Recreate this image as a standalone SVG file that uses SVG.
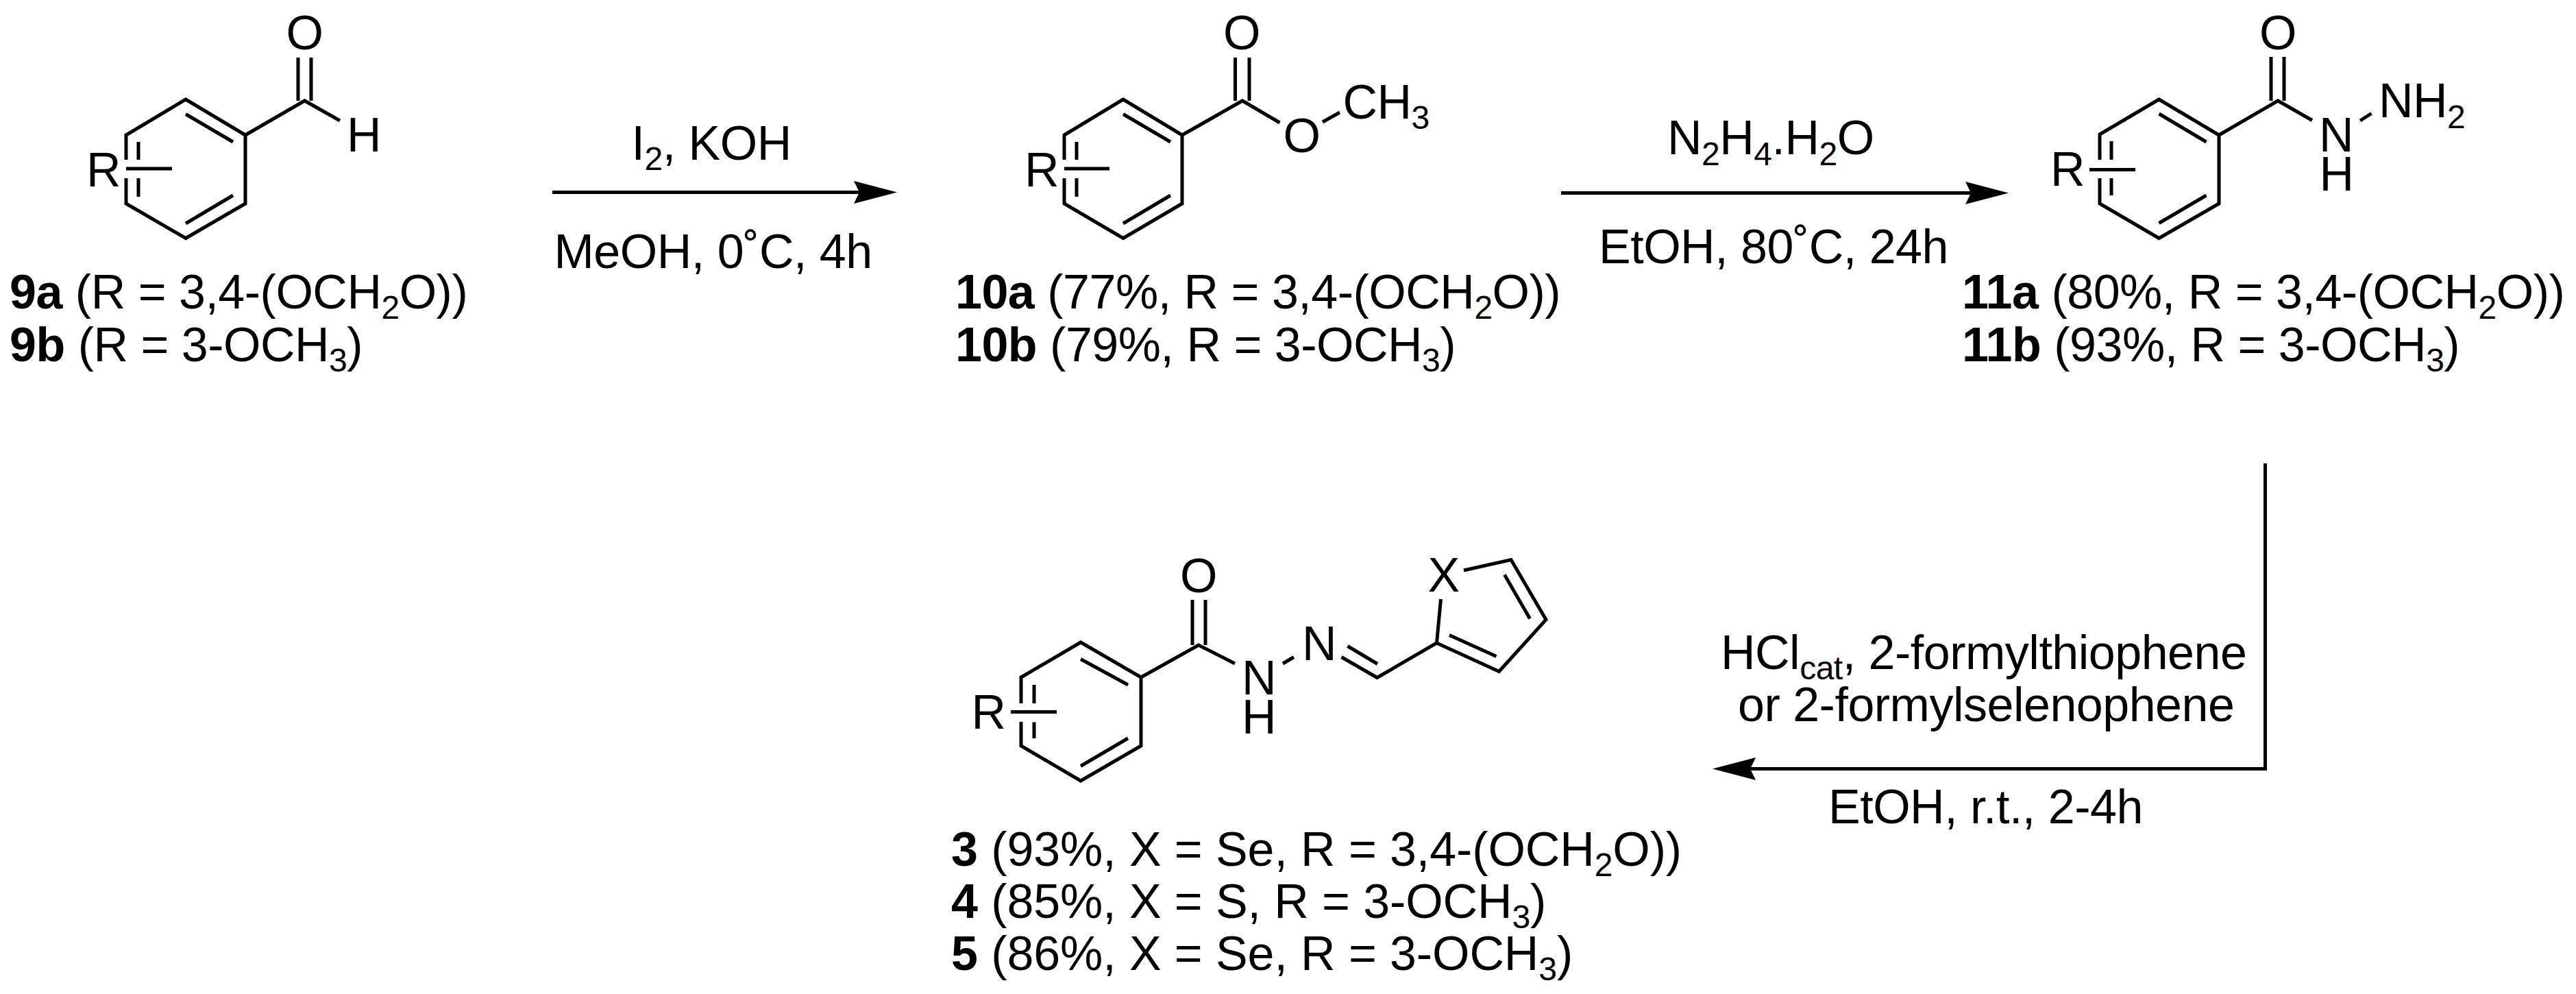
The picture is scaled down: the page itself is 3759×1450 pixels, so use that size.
<svg xmlns="http://www.w3.org/2000/svg" width="3759" height="1450" viewBox="0 0 3759 1450">
<style>
text{font-family:"Liberation Sans",Arial,sans-serif;font-size:70px;letter-spacing:-0.5px;fill:#000}
text.w{letter-spacing:-0.1px}
.b{font-weight:700}
.s{font-size:48px}
.m{text-anchor:middle}
.bond{fill:none;stroke:#000;stroke-width:5;stroke-linejoin:miter;stroke-linecap:butt}
</style>
<defs>
<marker id="head" markerUnits="userSpaceOnUse" markerWidth="64" markerHeight="34" refX="8" refY="17" orient="auto">
<path d="M0 0.500L63 17L0 33.500L8 17Z" fill="#000"/>
</marker>
</defs>
<g id="connectors">
<path class="bond" marker-end="url(#head)" d="M806 280.500H1254"/>
<path class="bond" marker-end="url(#head)" d="M2278 281.500H2876"/>
<path class="bond" marker-end="url(#head)" d="M3305.500 676V1121.500H2554"/>
<text id="r1a" x="921.500" y="232.500">I<tspan class="s" dy="15">2</tspan><tspan dy="-15">, KOH</tspan></text>
<text id="r1b" x="808.500" y="390.500">MeOH, 0˚C, 4h</text>
<text id="r2a" x="2433" y="225">N<tspan class="s" dy="15.500">2</tspan><tspan dy="-15.500">H</tspan><tspan class="s" dy="15.500">4</tspan><tspan dy="-15.500">.H</tspan><tspan class="s" dy="15.500">2</tspan><tspan dy="-15.500">O</tspan></text>
<text id="r2b" x="2333" y="383.500">EtOH, 80˚C, 24h</text>
<text id="r3a" x="2511" y="976">HCl<tspan class="s" dy="15">cat</tspan><tspan dy="-15">, 2-formylthiophene</tspan></text>
<text id="r3b" x="2536" y="1052">or 2-formylselenophene</text>
<text id="r3c" x="2668" y="1201">EtOH, r.t., 2-4h</text>
</g>
<g id="node-9">
<path class="bond" d="M184 233V197L271 145L358 197V297L271 347.500L184 297V260"/>
<path class="bond" d="M271 166.500L340 207M271 326L340 285M202 207V233M202 260V287M184 246H251"/>
<path class="bond" d="M358 197L444.500 147L496 176M435 84V147M454 84V147"/>
<text x="126" y="272">R</text>
<text class="m" x="444.500" y="72">O</text>
<text x="506" y="221">H</text>
<text x="14" y="450"><tspan class="b">9a</tspan> (R = 3,4-(OCH<tspan class="s" dy="15">2</tspan><tspan dy="-15">O))</tspan></text>
<text x="14" y="527"><tspan class="b">9b</tspan> (R = 3-OCH<tspan class="s" dy="15">3</tspan><tspan dy="-15">)</tspan></text>
</g>
<g id="node-10">
<path class="bond" d="M1553 233V197L1639 145L1725 197V297L1639 347.500L1553 297V260"/>
<path class="bond" d="M1639 166.500L1708 207M1639 326L1708 285M1571 207V233M1571 260V287M1553 246H1619"/>
<path class="bond" d="M1725 197L1813 147L1867.500 179M1802.500 84V147M1823 84V147M1930 178L1955 164"/>
<text x="1495" y="272">R</text>
<text class="m" x="1812" y="72">O</text>
<text class="m" x="1899.500" y="222">O</text>
<text x="1959.500" y="172.500">CH<tspan class="s" dy="15.500">3</tspan></text>
<text x="1394" y="450"><tspan class="b">10a</tspan> (77%, R = 3,4-(OCH<tspan class="s" dy="15">2</tspan><tspan dy="-15">O))</tspan></text>
<text x="1394" y="527"><tspan class="b">10b</tspan> (79%, R = 3-OCH<tspan class="s" dy="15">3</tspan><tspan dy="-15">)</tspan></text>
</g>
<g id="node-11">
<path class="bond" d="M3064 233V196L3150.500 145L3238 197V297L3150.500 347.500L3064 297V260"/>
<path class="bond" d="M3150.500 166L3219.500 207M3150.500 325.500L3219.500 285M3081 206V233M3081 260V285M3049 247.500H3116"/>
<path class="bond" d="M3238 197L3324 147L3374 175.500M3314 83V147M3333 83V147M3444 176L3460.500 165.500"/>
<text x="2992" y="271">R</text>
<text class="m" x="3324" y="72">O</text>
<text x="3384" y="220.500">N</text>
<text x="3384.500" y="277.500">H</text>
<text x="3471" y="171">NH<tspan class="s" dy="15.500">2</tspan></text>
<text x="2863" y="450"><tspan class="b">11a</tspan> (80%, R = 3,4-(OCH<tspan class="s" dy="15">2</tspan><tspan dy="-15">O))</tspan></text>
<text x="2863" y="527"><tspan class="b">11b</tspan> (93%, R = 3-OCH<tspan class="s" dy="15">3</tspan><tspan dy="-15">)</tspan></text>
</g>
<g id="node-3">
<path class="bond" d="M1490 1026V988L1577 937L1665 988V1088L1577 1139L1490 1088V1053"/>
<path class="bond" d="M1577 961.500L1646 999M1577 1117.500L1646 1077M1509 999V1026M1509 1053.500V1077M1475 1038.500H1542"/>
<path class="bond" d="M1665 988L1749 941L1802 968M1740 875V941M1759 875V941M1872 968L1888 958.500"/>
<path class="bond" d="M1966.500 942.500L2010 968.500M1957.500 958.500L2009.500 988.500L2096.500 938L2102.500 874M2136 832L2205 816.500L2256 904L2187.500 979.500L2096.500 938M2195.500 838.500L2232.500 902.500M2183.500 957.500L2115 926.500"/>
<text x="1417.500" y="1063">R</text>
<text class="m" x="1749" y="864">O</text>
<text x="1812" y="1013">N</text>
<text x="1812" y="1070">H</text>
<text x="1900" y="963">N</text>
<text class="m" x="2106.500" y="863">X</text>
<text class="w" x="1388" y="1263"><tspan class="b">3</tspan> (93%, X = Se, R = 3,4-(OCH<tspan class="s" dy="15">2</tspan><tspan dy="-15">O))</tspan></text>
<text class="w" x="1388" y="1339"><tspan class="b">4</tspan> (85%, X = S, R = 3-OCH<tspan class="s" dy="15">3</tspan><tspan dy="-15">)</tspan></text>
<text class="w" x="1388" y="1415"><tspan class="b">5</tspan> (86%, X = Se, R = 3-OCH<tspan class="s" dy="15">3</tspan><tspan dy="-15">)</tspan></text>
</g>
</svg>
